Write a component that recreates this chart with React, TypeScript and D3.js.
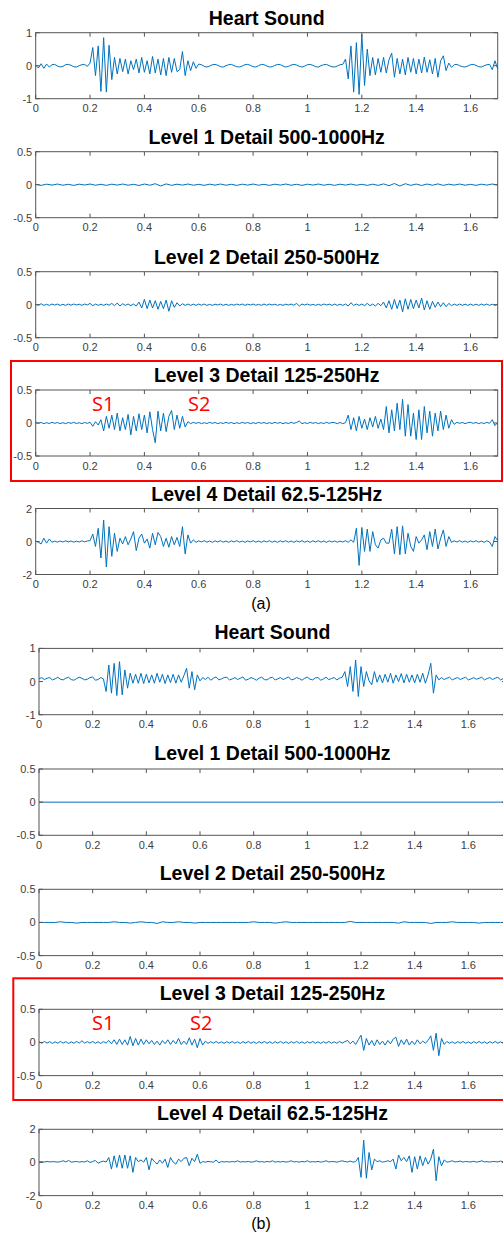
import * as d3 from "d3";

// sampled at 0.01 s unless noted
const heartA = [
  .02, -.07, .06, -.08, .05, -.04, .03, .04, -.01, -.04,
  -.02, .03, .04, .01, -.03, -.04, .00, .03, .04, -.02,
  .08, .55, -.30, .60, -.78, .85, -.80, .62, -.42, .25,
  -.25, .22, -.18, .20, -.25, .15, -.12, .20, -.22, .25,
  -.20, .15, -.25, .28, -.22, .20, -.28, .22, -.30, .25,
  -.20, .22, -.18, -.12, .43, -.30, .15, -.15, .12, -.08,
  .05, .03, -.02, -.04, -.01, .03, .04, .01, -.03, -.04,
  .00, .03, .04, .00, -.03, -.04, -.01, .03, .04, .01,
  -.03, -.04, .00, .04, .03, -.01, -.04, -.03, .01, .04,
  .03, -.01, -.04, -.02, .02, .04, .02, -.02, -.04, -.01,
  .03, .04, .01, -.03, -.04, .00, .03, .04, .00, -.03,
  -.04, -.01, .03, .04, .20, -.40, .60, -.80, .70, -.87,
  .95, -.60, .50, -.30, .25, -.28, .22, -.20, .25, -.22,
  .18, .38, -.35, .22, -.25, .20, -.28, .25, -.20, .22,
  -.25, .20, -.22, .26, -.20, .18, -.25, .22, -.35, .15,
  .30, -.15, .08, -.05, .03, .04, .00, -.03, -.04, -.01,
  .03, .04, .01, -.03, -.04, .00, .03, .04, -.12, .15,
  -.10,
];

// sampled at 0.02 s
const level1A = [
  .005, -.01, .008, -.006, .01, -.008, .006, -.01, .008, -.005,
  .01, -.008, .006, -.01, .008, -.006, .01, -.008, .006, -.012,
  .01, -.008, .015, -.02, .012, -.01, .008, -.006, .01, -.008,
  .006, -.01, .008, -.006, .01, -.008, .006, -.01, .008, -.006,
  .01, -.008, .006, -.01, .008, -.006, .01, -.008, .006, -.01,
  .008, -.006, .01, -.008, .006, -.01, .008, -.006, .01, -.008,
  .006, -.01, .008, -.01, .012, -.015, .018, -.02, .015, -.01,
  .01, -.012, .01, -.008, .012, -.01, .008, -.006, .01, -.008,
  .006, -.01, .008, -.006, .01, -.005,
];

const level2A = [
  .01, -.01, .015, -.01, .005, -.01, .01, -.005, .01, -.01,
  .005, -.01, .01, -.008, .01, -.005, .008, -.01, .01, -.005,
  .02, -.015, .01, -.01, .008, -.01, .01, -.008, .02, -.015,
  .025, -.02, .015, -.01, .01, -.015, .01, -.02, .04, -.05,
  .08, -.06, .07, -.05, .06, -.07, .05, -.06, .07, -.10,
  .06, -.04, .03, -.02, .015, -.01, .01, -.01, .008, -.01,
  .01, -.008, .01, -.01, .005, -.01, .008, -.005, .01, -.01,
  .008, -.01, .005, -.008, .01, -.005, .01, -.01, .008, -.005,
  .01, -.008, .005, -.01, .01, -.008, .01, -.005, .008, -.01,
  .005, -.01, .008, -.005, .01, -.008, .02, -.02, .01, -.005,
  .01, -.008, .005, -.01, .008, -.01, .01, -.005, .008, -.01,
  .01, -.01, .008, -.01, .01, -.02, .03, -.01, .01, -.01,
  .01, -.015, .02, -.015, .01, -.02, .02, -.015, .04, -.05,
  .06, -.07, .08, -.06, .07, -.11, .09, -.07, .08, -.06,
  .07, -.05, .10, -.08, .06, -.07, .05, -.04, .04, -.03,
  .03, -.03, .02, -.015, .01, -.01, .01, -.01, .008, -.01,
  .01, -.01, .008, -.01, .01, -.008, .01, -.01, .008, -.01,
  .005,
];

const level3A = [
  .01, -.005, .008, -.01, .005, -.008, .01, -.005, .008, -.01,
  .005, -.01, .008, -.005, .01, -.008, .005, -.01, .008, -.005,
  .01, -.05, .02, -.03, .05, -.12, .10, -.08, .12, -.10,
  .15, -.12, .08, -.10, .13, -.18, .10, -.12, .14, -.10,
  .12, -.15, .17, -.10, -.30, .18, -.12, .15, -.13, .10,
  .19, -.10, .12, -.08, .10, -.06, .02, -.01, .01, -.005,
  .008, -.01, .005, -.008, .01, -.005, .008, -.01, .005, -.008,
  .01, -.005, .008, -.01, .005, -.008, .01, -.005, .008, -.01,
  .005, -.008, .01, -.005, .008, -.01, .005, -.008, .01, -.005,
  .008, -.01, .005, -.008, .01, -.005, .008, .03, -.01, .005,
  -.008, .01, -.005, .008, -.01, .005, -.008, .01, -.005, .008,
  .005, -.01, .008, -.01, .005, .12, -.10, .08, -.12, .10,
  -.08, .06, -.10, .08, -.06, .10, -.08, .06, -.10, .25,
  -.15, .20, -.12, .30, -.10, .36, -.20, .28, -.20, .15,
  -.25, .20, -.25, .25, -.15, .18, -.20, .15, -.12, .18,
  -.10, .12, -.08, .05, -.02, .01, -.005, .008, -.01, .005,
  .01, -.005, .008, -.01, .005, -.008, .01, -.005, .05, -.04,
  .01,
];

const level4A = [
  .02, -.05, -.15, .20, -.10, .15, -.05, .03, -.04, .03,
  -.03, .04, -.02, .03, -.04, .02, -.03, .04, -.02, .03,
  .05, .45, -.30, .80, -1.00, 1.30, -1.55, .90, -.90, .50,
  -.60, .20, -.15, .30, -.20, .15, .60, -.55, .20, .45,
  -.10, .15, -.40, .50, -.20, .55, .30, -.30, .20, -.35,
  .30, -.20, .25, -.30, .90, -.75, .40, -.10, .10, -.05,
  .04, -.03, .05, -.04, .03, -.05, .04, -.03, .05, -.04,
  .03, -.05, .04, -.03, .05, -.04, .03, -.05, .04, -.03,
  .05, -.04, .03, -.05, .04, -.03, .05, -.04, .03, -.05,
  .04, -.03, .05, -.04, .03, -.05, .04, -.03, .05, -.04,
  .03, -.05, .04, -.03, .05, -.04, .03, -.05, .04, -.03,
  .03, -.04, .02, -.03, .05, -.05, .10, -.05, .80, -1.45,
  .85, -.60, .75, -.60, .60, -.20, -.40, .10, .20, -.10,
  -.10, .75, -.75, .90, -.80, .95, -.75, .50, -.30, -.60,
  .30, -.10, .10, .40, -.50, .60, -.30, .75, -.45, .20,
  .70, -.30, .30, -.05, .04, -.03, .05, -.04, .03, -.05,
  .04, -.03, .05, -.04, .03, -.05, .04, -.03, -.30, .30,
  .05,
];

const heartB = [
  .08, .12, .06, .10, .12, .05, .08, .13, .07, .05,
  .10, .13, .06, .04, .09, .13, .10, .05, .07, .12,
  .14, .04, .06, .12, .08, -.30, .50, -.35, .55, -.42,
  .60, -.40, .35, -.20, .25, -.05, .22, -.05, .25, -.06,
  .22, -.04, .20, -.05, .25, -.02, .22, -.06, .20, -.03,
  .22, -.05, .20, -.02, .18, .40, -.20, .30, -.25, .20,
  .02, .12, .06, .13, .04, .10, .14, .05, .08, .12,
  .13, .05, .08, .12, .06, .10, .14, .04, .07, .12,
  .09, .04, .10, .13, .06, .05, .11, .13, .05, .08,
  .12, .06, .10, .14, .05, .07, .12, .09, .04, .10,
  .13, .07, .05, .11, .12, .04, .08, .13, .06, .09,
  .12, .05, .10, .13, .30, -.15, .45, -.30, .65, -.45,
  .45, -.15, .30, .02, -.10, .30, -.02, .20, -.04, .22,
  -.02, .25, -.05, .20, .00, .24, -.04, .22, -.02, .20,
  -.04, .22, -.02, .25, -.05, .20, .55, -.35, .20, .05,
  .12, .06, .10, .13, .05, .09, .12, .06, .10, .13,
  .05, .08, .12, .07, .10, .13, .05, .09, .12, .06,
  .10, .13, .05, .09, .12,
];

// flat line, two samples 1.74 s apart
const level1B = [0, 0];

// sampled at 0.02 s
const level2B = [
  0, 0, 0, 0, .01, 0, 0, -.01, 0, 0,
  0, 0, 0, 0, .01, 0, 0, -.01, 0, .01,
  0, 0, -.015, .01, 0, 0, .01, 0, 0, -.01,
  0, 0, 0, 0, 0, 0, 0, 0, 0, 0,
  .01, 0, 0, 0, -.01, 0, .01, 0, 0, 0,
  0, 0, 0, 0, 0, 0, 0, 0, .015, 0,
  0, 0, 0, 0, 0, 0, 0, -.01, .01, 0,
  0, 0, 0, -.015, 0, 0, 0, .01, 0, 0,
  0, 0, -.01, 0, 0, 0, 0, 0,
];

const level3B = [
  .01, -.012, .015, -.01, .012, -.015, .01, -.012, .015, -.01,
  .012, -.015, .01, -.012, .015, -.01, .025, -.01, .012, -.01,
  .015, -.012, .01, -.015, .012, -.01, .03, -.02, .04, -.03,
  .05, -.03, .04, -.04, .09, -.05, .06, -.04, .05, -.03,
  .04, -.02, .03, -.03, .02, -.04, .03, -.02, .04, -.03,
  .03, -.02, .06, -.03, .02, -.03, .07, -.04, .05, -.08,
  .06, -.04, .02, -.015, .012, -.01, .015, -.012, .01, -.015,
  .012, -.01, .015, -.012, .01, -.015, .012, -.01, .015, -.012,
  .01, -.015, .012, -.01, .015, -.012, .01, -.015, .012, -.01,
  .015, -.012, .01, -.015, .012, -.01, .015, -.012, .01, -.015,
  .012, -.01, .015, -.012, .01, -.015, .012, -.01, .015, -.012,
  .01, -.012, .015, -.01, .012, .03, -.02, .02, -.03, .04,
  .11, -.12, .06, -.04, .03, -.05, .04, -.03, .02, -.04,
  .03, -.02, .05, .08, -.06, .04, -.03, .05, -.04, .02,
  -.03, .04, -.02, .02, -.01, .03, .10, -.12, .14, -.20,
  .06, -.03, .015, -.012, .01, -.015, .012, -.01, .015, -.012,
  .01, -.015, .012, -.01, .015, -.012, .01, -.015, .012, -.01,
  .015, -.012, .01, -.015, .012,
];

const level4B = [
  .03, .05, .02, .06, .03, .05, .04, .02, .05, .10,
  .03, .12, .02, .04, .06, .02, .05, .03, .10, .00,
  .05, .12, -.05, .03, .08, .02, .30, -.40, .40, -.30,
  .45, -.35, .45, -.35, .40, -.60, .30, .05, .15, .02,
  .30, -.45, .25, .05, -.10, .15, -.05, .20, -.30, .30,
  .02, -.10, .20, .05, .25, .30, -.20, .25, .05, .50,
  -.05, .05, .02, .06, .04, .02, .15, -.02, .05, .03,
  .05, .02, .06, .03, .10, .02, .05, .03, .06, .02,
  .04, .10, .03, .05, .02, .06, .03, .10, .02, .05,
  .03, .06, .02, .05, .10, .03, .05, .02, .06, .03,
  .10, .02, .05, .03, .06, .02, .05, .10, .03, .05,
  .05, .02, .06, .10, .05, .03, .08, .02, .05, .30,
  -.90, 1.35, -.95, .60, -.45, .20, .05, .10, .02, .05,
  .10, .05, .20, -.40, .45, .10, .30, .05, .40, -.60,
  .35, -.40, .40, -.20, .30, -.10, .20, .80, -1.10, .35,
  -.20, .15, .02, .05, .10, .03, .05, .08, .02, .06,
  .04, .03, .07, .02, .05, .10, .03, .05, .02, .06,
  .05, .03, .08, .04, .06,
];

const titles = [
  "Heart Sound",
  "Level 1 Detail 500-1000Hz",
  "Level 2 Detail 250-500Hz",
  "Level 3 Detail 125-250Hz",
  "Level 4 Detail 62.5-125Hz",
];
const yLimits = [1, 0.5, 0.5, 0.5, 2];
const xTicks = [0, 0.2, 0.4, 0.6, 0.8, 1, 1.2, 1.4, 1.6];

const FONT = "'Liberation Sans', Arial, Helvetica, sans-serif";
const BLUE = "#0072BD";
const AXIS = "#555";

type Fig = {
  data: number[][];
  dts: number[];
  xMax: number;
  left: number;
  right: number;
  tops: number[];
  height: number;
  titleGap: number;
  caption: string;
  captionY: number;
  box: [number, number, number, number];
  sY: number;
  s1X: number;
  s2X: number;
};

const figs: Fig[] = [
  {
    data: [heartA, level1A, level2A, level3A, level4A],
    dts: [0.01, 0.02, 0.01, 0.01, 0.01],
    xMax: 1.7, left: 35.7, right: 497.7,
    tops: [32.7, 151.7, 271.7, 390, 508.5], height: 66, titleGap: 8,
    caption: "(a)", captionY: 608.5,
    box: [11, 361, 491, 120], sY: 411, s1X: 92, s2X: 188,
  },
  {
    data: [heartB, level1B, level2B, level3B, level4B],
    dts: [0.01, 1.74, 0.02, 0.01, 0.01],
    xMax: 1.74, left: 39, right: 505.9,
    tops: [648.4, 769, 889.3, 1009.3, 1129.3], height: 66.3, titleGap: 9,
    caption: "(b)", captionY: 1228.5,
    box: [13.3, 978.3, 500, 121.7], sY: 1030, s1X: 92, s2X: 190,
  },
];

function Panel({ f, k }: { f: Fig; k: number }) {
  const top = f.tops[k];
  const bottom = top + f.height;
  const ym = yLimits[k];
  const dt = f.dts[k];
  const x = d3.scaleLinear().domain([0, f.xMax]).range([f.left, f.right]);
  const y = d3.scaleLinear().domain([-ym, ym]).range([bottom, top]);
  const line = d3.line<number>().x((_, i) => x(i * dt)).y(v => y(v));
  const yTicks = [-ym, 0, ym];
  const tl = 4;
  return (
    <g>
      <text x={(f.left + f.right) / 2} y={top - f.titleGap} textAnchor="middle"
        fontFamily={FONT} fontWeight="bold" fontSize={19.5} fill="#000">{titles[k]}</text>
      <path d={line(f.data[k]) || ""} fill="none" stroke={BLUE} strokeWidth={1} />
      <rect x={f.left} y={top} width={f.right - f.left} height={f.height}
        fill="none" stroke={AXIS} strokeWidth={1} />
      {xTicks.map(t => (
        <g key={t}>
          <line x1={x(t)} x2={x(t)} y1={bottom} y2={bottom - tl} stroke={AXIS} />
          <line x1={x(t)} x2={x(t)} y1={top} y2={top + tl} stroke={AXIS} />
          <text x={x(t)} y={bottom + 13.5} textAnchor="middle" fontFamily={FONT}
            fontSize={11} fill="#404040">{String(t)}</text>
        </g>
      ))}
      {yTicks.map(t => (
        <g key={t}>
          <line x1={f.left} x2={f.left + tl} y1={y(t)} y2={y(t)} stroke={AXIS} />
          <line x1={f.right} x2={f.right - tl} y1={y(t)} y2={y(t)} stroke={AXIS} />
          <text x={f.left - 3.5} y={y(t) + 4} textAnchor="end" fontFamily={FONT}
            fontSize={11} fill="#404040">{String(t)}</text>
        </g>
      ))}
    </g>
  );
}

export default function App() {
  return (
    <svg width={503} height={1243} style={{ position: "absolute", left: 0, top: 0, background: "#fff" }}>
      <rect x={0} y={0} width={503} height={1243} fill="#fff" />
      {figs.map((f, fi) => (
        <g key={fi}>
          {titles.map((_, k) => <Panel key={k} f={f} k={k} />)}
          <rect x={f.box[0]} y={f.box[1]} width={f.box[2]} height={f.box[3]}
            fill="none" stroke="#f00" strokeWidth={2} />
          <text x={f.s1X} y={f.sY} fontFamily="'Open Sans', sans-serif" fontSize={20} fill="#f00">S1</text>
          <text x={f.s2X} y={f.sY} fontFamily="'Open Sans', sans-serif" fontSize={20} fill="#f00">S2</text>
          <text x={261} y={f.captionY} textAnchor="middle" fontFamily={FONT}
            fontSize={16} fill="#000">{f.caption}</text>
        </g>
      ))}
    </svg>
  );
}
